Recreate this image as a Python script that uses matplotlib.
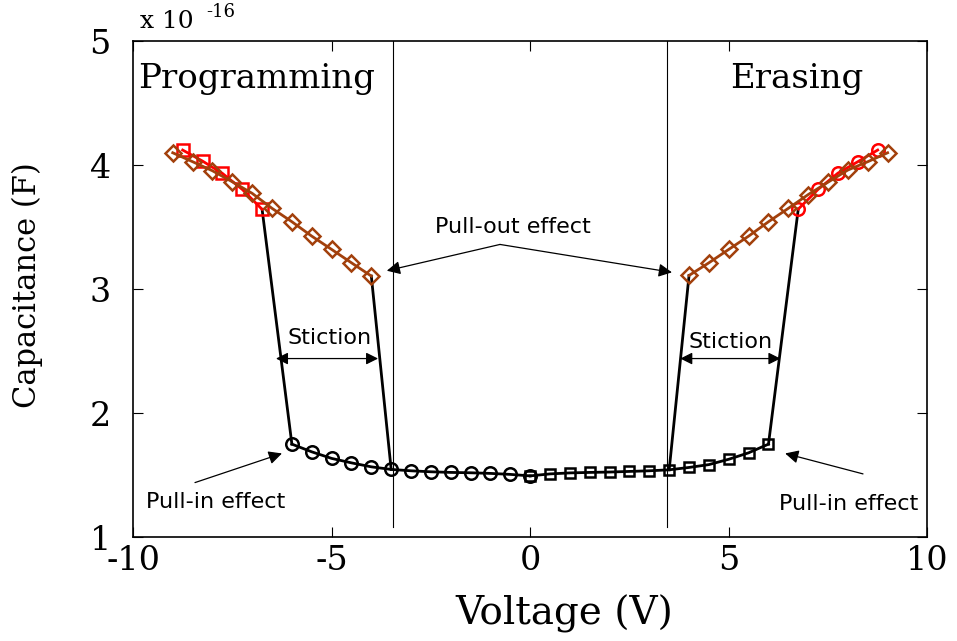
"""
C-V hysteresis of the NEMS memory cell: programming and erasing branches.
"""

import matplotlib
matplotlib.use("Agg")
import matplotlib.pyplot as plt
import numpy as np

# Low-capacitance branch (beam up), sweeping outwards from 0 V
v_up_neg = [-6.0, -5.5, -5.0, -4.5, -4.0, -3.5, -3.0, -2.5, -2.0, -1.5, -1.0, -0.5, 0.0]
c_up_neg = [1.750, 1.688, 1.635, 1.599, 1.567, 1.546, 1.535, 1.527, 1.522, 1.519, 1.514, 1.506, 1.494]
v_up_pos = [0.0, 0.5, 1.0, 1.5, 2.0, 2.5, 3.0, 3.5, 4.0, 4.5, 5.0, 5.5, 6.0]
c_up_pos = [1.494, 1.510, 1.518, 1.522, 1.525, 1.530, 1.535, 1.543, 1.562, 1.585, 1.628, 1.680, 1.750]

# High-capacitance branch after pull-in (beam down)
v_dn_neg = [-8.75, -8.25, -7.75, -7.25, -6.75]
c_dn_neg = [4.121, 4.032, 3.933, 3.804, 3.643]
v_dn_pos = [6.75, 7.25, 7.75, 8.25, 8.75]
c_dn_pos = [3.645, 3.804, 3.935, 4.027, 4.121]

# Return sweep towards 0 V until pull-out
v_ret_neg = [-9.0, -8.5, -8.0, -7.5, -7.0, -6.5, -6.0, -5.5, -5.0, -4.5, -4.0]
c_ret_neg = [4.099, 4.027, 3.954, 3.865, 3.772, 3.651, 3.543, 3.427, 3.320, 3.212, 3.105]
v_ret_pos = [4.0, 4.5, 5.0, 5.5, 6.0, 6.5, 7.0, 7.5, 8.0, 8.5, 9.0]
c_ret_pos = [3.110, 3.212, 3.320, 3.427, 3.543, 3.651, 3.762, 3.862, 3.960, 4.027, 4.099]

# Pull-out voltages (vertical guides)
v_pullout = [-3.45, 3.45]

xticks = [-10, -5, 0, 5, 10]
yticks = [1, 2, 3, 4, 5]

brown = '#a2400c'
serif = dict(family='DejaVu Serif')

fig = plt.figure(figsize=(9.57, 6.41), dpi=100)
ax = fig.add_axes([0.139, 0.162, 0.830, 0.774])

# jumps between the branches
ax.plot([v_dn_neg[-1], v_up_neg[0]], [c_dn_neg[-1], c_up_neg[0]], color='k', lw=2)
ax.plot([v_ret_neg[-1], v_up_neg[5]], [c_ret_neg[-1], c_up_neg[5]], color='k', lw=2)
ax.plot([v_ret_pos[0], v_up_pos[7]], [c_ret_pos[0], c_up_pos[7]], color='k', lw=2)
ax.plot([v_dn_pos[0], v_up_pos[-1]], [c_dn_pos[0], c_up_pos[-1]], color='k', lw=2)

ax.plot(v_up_neg, c_up_neg, 'k-o', lw=2, ms=9, mfc='none', mew=1.8)
ax.plot(v_up_pos, c_up_pos, 'k-s', lw=2, ms=7.5, mfc='none', mew=1.8)
ax.plot(v_dn_neg, c_dn_neg, 'r-s', lw=2, ms=8.5, mfc='none', mew=1.8)
ax.plot(v_dn_pos, c_dn_pos, 'r-o', lw=2, ms=9, mfc='none', mew=1.8)
ax.plot(v_ret_neg, c_ret_neg, '-D', color=brown, lw=2, ms=8.5, mfc='none', mew=1.8)
ax.plot(v_ret_pos, c_ret_pos, '-D', color=brown, lw=2, ms=8.5, mfc='none', mew=1.8)

for v in v_pullout:
    ax.plot([v, v], [1.08, 5], color='k', lw=0.8)

ax.set_xlim(-10, 10)
ax.set_ylim(1, 5)
ax.set_xticks(xticks)
ax.set_yticks(yticks)
ax.set_xticklabels([str(t) for t in xticks], **serif, fontsize=24)
ax.set_yticklabels([str(t) for t in yticks], **serif, fontsize=24)
ax.tick_params(direction='in', length=7, width=0.8, top=True, right=True)
ax.tick_params(axis='x', pad=6)
ax.tick_params(axis='y', pad=16)
for s in ax.spines.values():
    s.set_linewidth(1.2)

fig.text(0.590, 0.042, 'Voltage (V)', ha='center', va='center',
         **serif, fontsize=28)
fig.text(0.029, 0.555, 'Capacitance (F)', ha='center', va='center',
         rotation=90, **serif, fontsize=22)
fig.text(0.146, 0.966, 'x 10', ha='left', va='center', **serif, fontsize=18)
fig.text(0.215, 0.981, '-16', ha='left', va='center', **serif, fontsize=13)

ax.text(-6.88, 4.69, 'Programming', ha='center', va='center',
        **serif, fontsize=24.5)
ax.text(6.7, 4.69, 'Erasing', ha='center', va='center',
        **serif, fontsize=24.5)

sans = dict(family='DejaVu Sans', fontsize=16)
thin = dict(arrowstyle='-|>', color='k', lw=0.9, mutation_scale=20,
            shrinkA=0, shrinkB=0)
both = dict(arrowstyle='<|-|>', color='k', lw=0.9, mutation_scale=18,
            shrinkA=0, shrinkB=0)

ax.text(-0.43, 3.5, 'Pull-out effect', ha='center', va='center', **sans)
ax.annotate('', xy=(-3.61, 3.148), xytext=(-0.76, 3.36), arrowprops=thin)
ax.annotate('', xy=(3.57, 3.135), xytext=(-0.76, 3.36), arrowprops=thin)

ax.text(-5.06, 2.605, 'Stiction', ha='center', va='center', **sans)
ax.annotate('', xy=(-6.40, 2.44), xytext=(-3.83, 2.44), arrowprops=both)
ax.text(5.04, 2.57, 'Stiction', ha='center', va='center', **sans)
ax.annotate('', xy=(3.78, 2.44), xytext=(6.30, 2.44), arrowprops=both)

ax.text(-7.93, 1.28, 'Pull-in effect', ha='center', va='center', **sans)
ax.annotate('', xy=(-6.25, 1.675), xytext=(-8.44, 1.44), arrowprops=thin)
ax.text(8.01, 1.27, 'Pull-in effect', ha='center', va='center', **sans)
ax.annotate('', xy=(6.42, 1.675), xytext=(8.38, 1.51), arrowprops=thin)

plt.savefig('out.png', dpi=100)
